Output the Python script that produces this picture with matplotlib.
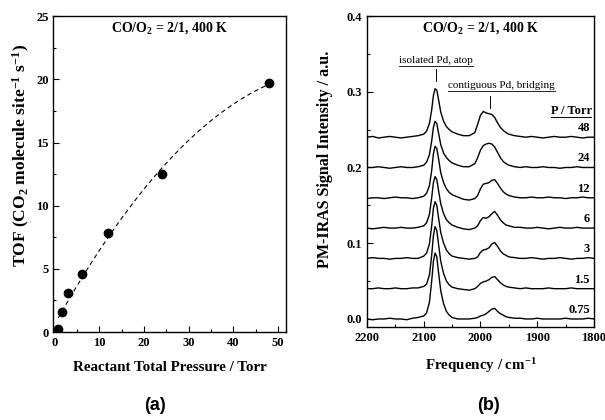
import matplotlib
matplotlib.use('Agg')
import matplotlib.pyplot as plt
import numpy as np
from matplotlib.ticker import MultipleLocator, FormatStrFormatter

plt.rcParams['font.family'] = 'Liberation Serif'
plt.rcParams['font.weight'] = 'bold'
plt.rcParams['axes.labelweight'] = 'bold'
plt.rcParams['mathtext.fontset'] = 'custom'
plt.rcParams['mathtext.rm'] = 'Liberation Serif:bold'
plt.rcParams['mathtext.bf'] = 'Liberation Serif:bold'
plt.rcParams['mathtext.it'] = 'Liberation Serif:bold'

# (a) turnover frequency vs. total pressure
pressure = [0.75, 1.5, 3, 6, 12, 24, 48]
tof = [0.25, 1.55, 3.05, 4.6, 7.85, 12.5, 19.7]

# (b) PM-IRAS spectra, values in 1e-3 a.u. above each baseline
freq = [2200, 2190, 2180, 2170, 2160, 2150, 2140, 2130, 2120, 2110, 2100,
        2095, 2090, 2086, 2083, 2080, 2077, 2074, 2070, 2065, 2060, 2055, 2050,
        2040, 2030, 2020, 2010,
        2005, 2000, 1995, 1990, 1985, 1980, 1975, 1970, 1965, 1960, 1955, 1950,
        1940, 1930, 1920, 1910, 1900, 1890, 1880, 1870, 1860, 1850, 1840, 1830,
        1820, 1810, 1800]

spec_48 = [0, 1, -1, 0, 1, 0, -1, 0, 1, 2, 4,
           8, 18, 36, 55, 64, 62, 50, 33, 21, 14, 10, 7,
           4, 2, 2, 6,
           17, 29, 34, 32, 31, 30, 26, 19, 13, 9, 6, 4,
           2, 1, 0, 1, 0, -1, 0, 1, 0, 0, 1, 0, -1, 0, 0]
spec_24 = [0, 0, 1, 0, -1, 0, 1, 0, 0, 1, 3,
           7, 17, 35, 53, 61, 58, 46, 30, 19, 13, 9, 6,
           3, 1, 1, 5,
           13, 23, 29, 31, 32, 31, 27, 20, 13, 8, 5, 3,
           1, 0, 1, 0, 0, 1, 0, 0, -1, 0, 0, 1, 0, 0, 0]
spec_12 = [-1, 0, 0, -1, 0, 1, 0, 0, -1, 0, 2,
           6, 16, 36, 58, 68, 65, 52, 33, 20, 12, 7, 4,
           1, -2, -3, -1,
           3, 12, 18, 19, 20, 23, 24, 19, 13, 8, 5, 3,
           1, 0, 0, 1, 0, 0, 1, 0, 0, -1, 0, 0, 1, 0, 0]
spec_6 = [0, -1, 0, 1, 0, 0, 1, 0, 0, 1, 3,
          7, 18, 40, 60, 68, 64, 50, 32, 19, 11, 7, 4,
          1, -1, -2, 0,
          3, 10, 14, 13, 15, 19, 22, 17, 11, 7, 4, 3,
          1, 1, 0, 0, 1, 0, -1, 0, 1, 0, 0, 1, 0, 0, 0]
spec_3 = [0, 1, 0, 0, -1, 0, 0, 1, 0, 0, 3,
          7, 19, 43, 66, 75, 70, 54, 34, 20, 11, 6, 3,
          1, 0, -1, 0,
          2, 8, 11, 12, 14, 19, 21, 16, 10, 6, 4, 2,
          1, 0, 0, 1, 0, -1, 0, 0, 1, 0, -1, 0, 0, 1, 0]
spec_1p5 = [0, 0, 1, 0, 0, 1, 0, 0, 1, 1, 3,
            6, 18, 44, 70, 82, 77, 59, 36, 20, 10, 5, 2,
            0, -1, -2, 0,
            3, 7, 9, 10, 12, 15, 16, 12, 8, 5, 3, 2,
            1, 0, 1, 0, 0, 0, 1, 0, 0, 0, 1, 0, 0, 0, 0]
spec_0p75 = [0, -1, 0, 0, 1, 0, 0, -1, 1, 2, 4,
             8, 22, 50, 76, 87, 82, 62, 37, 20, 10, 5, 2,
             0, 0, 0, 1,
             2, 4, 5, 7, 10, 13, 14, 10, 7, 5, 3, 2,
             1, 1, 0, 0, 1, 0, 0, 0, 0, 1, 0, 0, 0, 1, 0]

spectra = [spec_0p75, spec_1p5, spec_3, spec_6, spec_12, spec_24, spec_48]
offsets = [0.0, 0.04, 0.08, 0.12, 0.16, 0.20, 0.24]
p_labels = ['0.75', '1.5', '3', '6', '12', '24', '48']

fig = plt.figure(figsize=(6.05, 4.2), dpi=100)
ax1 = fig.add_axes([0.0884, 0.2095, 0.3843, 0.752])
ax2 = fig.add_axes([0.6066, 0.2214, 0.3752, 0.7405])

title = r'CO/O$_{2}$ = 2/1, 400 K'

# ---- panel (a)
coef = np.polyfit(pressure, tof, 2)
xfit = np.linspace(pressure[0], pressure[-1], 200)
ax1.plot(xfit, np.polyval(coef, xfit), color='black', lw=0.8, ls=(0, (4, 3)))
ax1.plot(pressure, tof, 'o', color='black', ms=6)
ax1.set_xlim(-0.3, 51.8)
ax1.set_ylim(0, 25)
ax1.xaxis.set_major_locator(MultipleLocator(10))
ax1.xaxis.set_minor_locator(MultipleLocator(5))
ax1.yaxis.set_major_locator(MultipleLocator(5))
ax1.yaxis.set_minor_locator(MultipleLocator(2.5))
ax1.set_xlabel('Reactant Total Pressure / Torr', fontsize=10.8, labelpad=9)
ax1.set_ylabel(r'TOF (CO$_{2}$ molecule site$^{-1}$ s$^{-1}$)', fontsize=12.5)
ax1.yaxis.set_label_coords(-0.092, 0.56)
ax1.text(0.5, 0.962, title, transform=ax1.transAxes, ha='center', va='center',
         fontsize=10)

# ---- panel (b)
for vals, off, lab in zip(spectra, offsets, p_labels):
    y = off + np.array(vals) / 1000.0
    ax2.plot(freq, y, color='black', lw=1.0)
    ax2.text(1807, off + 0.012, lab, ha='right', va='center', fontsize=9)

ax2.set_xlim(2200, 1800)
ax2.set_ylim(-0.0106, 0.4)
ax2.xaxis.set_major_locator(MultipleLocator(100))
ax2.xaxis.set_minor_locator(MultipleLocator(50))
ax2.yaxis.set_major_locator(MultipleLocator(0.1))
ax2.yaxis.set_minor_locator(MultipleLocator(0.05))
ax2.yaxis.set_major_formatter(FormatStrFormatter('%.1f'))
ax2.set_xlabel(r'Frequency / cm$^{-1}$', fontsize=10.8, labelpad=9)
ax2.set_ylabel('PM-IRAS Signal Intensity / a.u.', fontsize=11.5)
ax2.yaxis.set_label_coords(-0.148, 0.54)
ax2.text(0.5, 0.961, title, transform=ax2.transAxes, ha='center', va='center',
         fontsize=10)

# peak annotations
ax2.text(2078, 0.3406, 'isolated Pd, atop', ha='center', va='center',
         fontsize=8, fontweight='normal')
ax2.plot([2143, 2013], [0.3335, 0.3335], color='black', lw=0.6)
ax2.plot([2078, 2078], [0.330, 0.314], color='black', lw=0.7)
ax2.text(1963, 0.3076, 'contiguous Pd, bridging', ha='center', va='center',
         fontsize=8, fontweight='normal')
ax2.plot([2058, 1868], [0.3005, 0.3005], color='black', lw=0.6)
ax2.plot([1983, 1983], [0.294, 0.2785], color='black', lw=0.7)
ax2.text(1840, 0.2746, 'P / Torr', ha='center', va='center', fontsize=9)
ax2.plot([1875, 1806], [0.2665, 0.2665], color='black', lw=0.7)

for ax in (ax1, ax2):
    ax.tick_params(which='both', direction='in', top=False, right=False,
                   labelsize=9, width=0.8)
    ax.tick_params(which='major', length=4)
    ax.tick_params(which='minor', length=2)
    for s in ax.spines.values():
        s.set_linewidth(1.0)

fig.text(0.256, 0.035, '(a)', ha='center', va='center', fontsize=13,
         family='Liberation Sans', fontweight='bold')
fig.text(0.807, 0.035, '(b)', ha='center', va='center', fontsize=13,
         family='Liberation Sans', fontweight='bold')

fig.savefig('out.png', dpi=100)
